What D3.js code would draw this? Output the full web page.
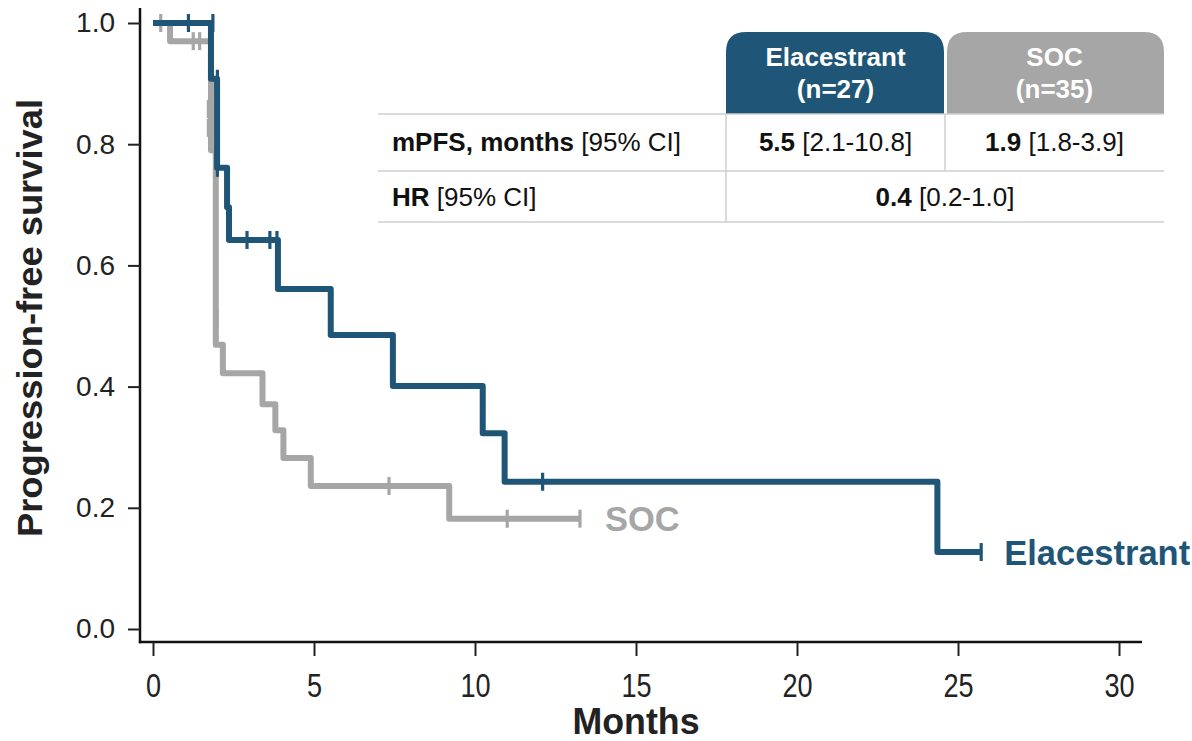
<!DOCTYPE html>
<html>
<head>
<meta charset="utf-8">
<script src="https://cdn.jsdelivr.net/npm/d3@7"></script>
<style>
  html, body { margin: 0; padding: 0; background: #fff; }
  svg { display: block; font-family: "Liberation Sans", Arial, sans-serif; }
</style>
</head>
<body>
<svg id="chart" width="1192" height="741"></svg>
<script>
// Kaplan–Meier step data: event times (months) and survival after each step
const elaTimes = [0, 1.80, 1.99, 2.30, 2.36, 3.88, 5.52, 7.45, 10.24, 10.92, 24.36];
const elaSurv  = [1.0, 0.908, 0.761, 0.696, 0.642, 0.561, 0.485, 0.401, 0.323, 0.243, 0.127];
const elaEnd = 25.72;
const elaCensorTimes = [1.10, 1.86, 2.00, 2.00, 2.92, 3.63, 3.85, 12.10, 25.72];
const elaCensorSurv  = [1.0, 1.0, 0.908, 0.761, 0.642, 0.642, 0.642, 0.243, 0.127];

const socTimes = [0, 0.53, 1.80, 1.95, 2.17, 3.40, 3.80, 4.05, 4.90, 9.20];
const socSurv  = [1.0, 0.970, 0.790, 0.469, 0.422, 0.371, 0.328, 0.282, 0.236, 0.182];
const socEnd = 13.26;
const socCensorTimes = [0.24, 1.25, 1.45, 1.72, 1.72, 1.93, 1.93, 1.99, 7.33, 11.0, 13.26];
const socCensorSurv  = [1.0, 0.970, 0.970, 0.858, 0.827, 0.785, 0.629, 0.511, 0.236, 0.182, 0.182];

const xTicks = [0, 5, 10, 15, 20, 25, 30];
const yTicks = [0, 0.2, 0.4, 0.6, 0.8, 1.0];

// Summary table
const armNames = ["Elacestrant", "SOC"];
const armN = ["(n=27)", "(n=35)"];
const mpfsLabel = ["mPFS, months", " [95% CI]"];
const mpfsMedian = ["5.5", "1.9"];
const mpfsCI = [" [2.1-10.8]", " [1.8-3.9]"];
const hrLabel = ["HR", " [95% CI]"];
const hrValue = ["0.4", " [0.2-1.0]"];

const BLUE = "#1f5577";
const GREY = "#a6a6a6";

const svg = d3.select("#chart");
const x = d3.scaleLinear().domain([0, 30]).range([153, 1119]);
const y = d3.scaleLinear().domain([0, 1]).range([629, 23]);

const axisX0 = 140, axisY0 = 642;

// Axis lines
svg.append("line").attr("x1", axisX0).attr("x2", axisX0).attr("y1", 8).attr("y2", axisY0 + 1.2)
  .attr("stroke", "#111").attr("stroke-width", 2.5);
svg.append("line").attr("x1", axisX0 - 1.2).attr("x2", 1142).attr("y1", axisY0).attr("y2", axisY0)
  .attr("stroke", "#111").attr("stroke-width", 2.5);

// Y axis ticks
const gy = svg.append("g").attr("transform", `translate(${axisX0},0)`)
  .call(d3.axisLeft(y).tickValues(yTicks).tickFormat(d3.format(".1f")).tickSize(12).tickPadding(13));
gy.select(".domain").remove();
gy.selectAll(".tick line").attr("stroke", "#222").attr("stroke-width", 2);
gy.selectAll(".tick text").attr("font-size", 28).attr("fill", "#222")
  .attr("font-family", "'Liberation Sans', Arial, sans-serif");

// X axis ticks (narrow lettering)
const gx = svg.append("g").attr("transform", `translate(0,${axisY0})`)
  .call(d3.axisBottom(x).tickValues(xTicks).tickFormat(d3.format("d")).tickSize(14).tickPadding(18));
gx.select(".domain").remove();
gx.selectAll(".tick line").attr("stroke", "#222").attr("stroke-width", 2);
gx.selectAll(".tick text").attr("font-size", 33).attr("fill", "#222")
  .attr("font-family", "'Liberation Sans', Arial, sans-serif")
  .each(function () {
    const w = this.getComputedTextLength();
    d3.select(this).attr("textLength", w * 0.82).attr("lengthAdjust", "spacingAndGlyphs");
  });

// Axis titles
svg.append("text").attr("x", 636).attr("y", 734).attr("text-anchor", "middle")
  .attr("font-size", 36).attr("font-weight", "bold").attr("fill", "#222")
  .attr("textLength", 127).attr("lengthAdjust", "spacingAndGlyphs").text("Months");

svg.append("text").attr("transform", "translate(42,318) rotate(-90)").attr("text-anchor", "middle")
  .attr("font-size", 35).attr("font-weight", "bold").attr("fill", "#222")
  .attr("textLength", 438).attr("lengthAdjust", "spacingAndGlyphs")
  .text("Progression-free survival");

// Step curves
function stepPoints(times, surv, end) {
  const pts = times.map((t, i) => [t, surv[i]]);
  pts.push([end, surv[surv.length - 1]]);
  return pts;
}
const line = d3.line().x(d => x(d[0])).y(d => y(d[1])).curve(d3.curveStepAfter);

function drawArm(times, surv, end, cTimes, cSurv, color) {
  svg.append("path").datum(stepPoints(times, surv, end))
    .attr("d", line).attr("fill", "none").attr("stroke", color)
    .attr("stroke-width", 6).attr("stroke-linejoin", "round");
  svg.append("g").selectAll("line").data(cTimes.map((t, i) => [t, cSurv[i]])).join("line")
    .attr("x1", d => x(d[0])).attr("x2", d => x(d[0]))
    .attr("y1", d => y(d[1]) - 9).attr("y2", d => y(d[1]) + 9)
    .attr("stroke", color).attr("stroke-width", 3.2);
}
drawArm(socTimes, socSurv, socEnd, socCensorTimes, socCensorSurv, GREY);
drawArm(elaTimes, elaSurv, elaEnd, elaCensorTimes, elaCensorSurv, BLUE);

// Curve end labels
svg.append("text").attr("x", x(socEnd) + 25).attr("y", y(socSurv[socSurv.length - 1]) + 12.5)
  .attr("font-size", 34.5).attr("font-weight", "bold").attr("fill", GREY).text(armNames[1]);
svg.append("text").attr("x", x(elaEnd) + 23).attr("y", y(elaSurv[elaSurv.length - 1]) + 12.5)
  .attr("font-size", 34.5).attr("font-weight", "bold").attr("fill", BLUE).text(armNames[0]);

// Summary table
const tbl = svg.append("g");
const colX = [378, 726, 945, 1164];
const rowY = [32, 114, 171, 222];
const headFill = [BLUE, GREY];
function headerPath(x0, x1, y0, y1, r) {
  return `M${x0},${y1} L${x0},${y0 + r} Q${x0},${y0} ${x0 + r},${y0} L${x1 - r},${y0} Q${x1},${y0} ${x1},${y0 + r} L${x1},${y1} Z`;
}
[0, 1].forEach(i => {
  const x0 = colX[i + 1] + (i === 1 ? 2 : 0), x1 = colX[i + 2] - (i === 0 ? 1 : 0);
  tbl.append("path").attr("d", headerPath(x0, x1, rowY[0], rowY[1], 20)).attr("fill", headFill[i]);
  const cx = (colX[i + 1] + colX[i + 2]) / 2;
  tbl.append("text").attr("x", cx).attr("y", 66).attr("text-anchor", "middle")
    .attr("font-size", 26).attr("font-weight", "bold").attr("fill", "#fff").text(armNames[i]);
  tbl.append("text").attr("x", cx).attr("y", 98).attr("text-anchor", "middle")
    .attr("font-size", 26).attr("font-weight", "bold").attr("fill", "#fff").text(armN[i]);
});
[1, 2, 3].forEach(r => {
  tbl.append("line").attr("x1", colX[0]).attr("x2", colX[3]).attr("y1", rowY[r]).attr("y2", rowY[r])
    .attr("stroke", "#cfcfcf").attr("stroke-width", 1.5);
});
tbl.append("line").attr("x1", colX[1]).attr("x2", colX[1]).attr("y1", rowY[1]).attr("y2", rowY[3])
  .attr("stroke", "#cfcfcf").attr("stroke-width", 1.5);
tbl.append("line").attr("x1", colX[2]).attr("x2", colX[2]).attr("y1", rowY[1]).attr("y2", rowY[2])
  .attr("stroke", "#cfcfcf").attr("stroke-width", 1.5);

function richText(px, py, anchor, boldPart, normalPart) {
  const t = tbl.append("text").attr("x", px).attr("y", py).attr("text-anchor", anchor)
    .attr("font-size", 26).attr("fill", "#111");
  t.append("tspan").attr("font-weight", "bold").text(boldPart);
  t.append("tspan").text(normalPart);
}
richText(392, 151, "start", mpfsLabel[0], mpfsLabel[1]);
richText(392, 206, "start", hrLabel[0], hrLabel[1]);
richText((colX[1] + colX[2]) / 2, 151, "middle", mpfsMedian[0], mpfsCI[0]);
richText((colX[2] + colX[3]) / 2, 151, "middle", mpfsMedian[1], mpfsCI[1]);
richText((colX[1] + colX[3]) / 2, 206, "middle", hrValue[0], hrValue[1]);
</script>
</body>
</html>
